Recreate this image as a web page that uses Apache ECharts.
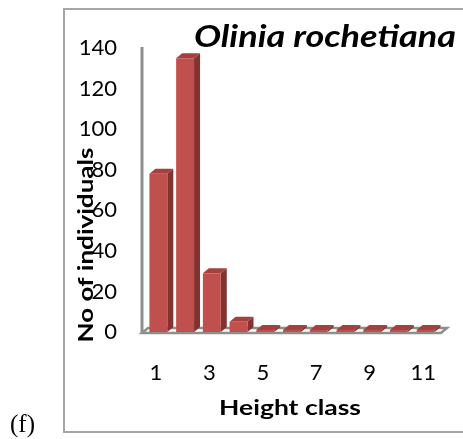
<!DOCTYPE html>
<html>
<head>
<meta charset="utf-8">
<script src="https://cdn.jsdelivr.net/npm/echarts@6/dist/echarts.min.js"></script>
<style>
  html, body { margin: 0; padding: 0; background: #ffffff; }
  #chart { width: 463px; height: 439px; }
</style>
</head>
<body>
<div id="chart"></div>
<script>
// Height classes on the x axis and number of individuals per class
const heightClasses = ['1', '2', '3', '4', '5', '6', '7', '8', '9', '10', '11'];
const individuals = [78, 135, 29, 5, 1, 1, 1, 1, 1, 1, 1];

// Value axis ticks
const yMin = 0;
const yMax = 140;
const yStep = 20;

const speciesName = 'Olinia rochetiana';
const xTitle = 'Height class';
const yTitle = 'No of individuals';
const panelTag = '(f)';

const FONT = 'Lato, "Open Sans", sans-serif';
const FRONT = '#c0504d';
const SIDE = '#843230';
const TOP = '#a3413e';
const WALL = '#8e8e8e';
const DEPTH_X = 6;
const DEPTH_Y = -5;

const chart = echarts.init(document.getElementById('chart'), null, { renderer: 'canvas' });

// Floor slab and left wall edge, sized from the grid rectangle
function renderFloor(params, api) {
  const cs = params.coordSys;
  const y0 = api.coord([0, yMin])[1] + 1;
  const yTop = api.coord([0, yMax])[1] - 1;
  const left = cs.x - 3;
  const right = cs.x + cs.width + 2;
  return {
    type: 'group',
    children: [
      {
        type: 'polygon',
        shape: { points: [[left, y0], [right, y0], [right + DEPTH_X, y0 + DEPTH_Y], [left + DEPTH_X, y0 + DEPTH_Y]] },
        style: { fill: '#ffffff', stroke: WALL, lineWidth: 2.5 }
      },
      {
        type: 'line',
        shape: { x1: left, y1: yTop, x2: left, y2: y0 },
        style: { stroke: WALL, lineWidth: 3 }
      }
    ]
  };
}

// 3D-looking column: front face, right side and top
function renderColumn(params, api) {
  const i = api.value(0);
  const v = api.value(1);
  const top = api.coord([i, v]);
  const base = api.coord([i, 0]);
  const w = api.size([1, 0])[0] * 0.67;
  const x0 = top[0] - w / 2;
  const x1 = x0 + w;
  const yT = top[1];
  const yB = base[1];
  return {
    type: 'group',
    children: [
      {
        type: 'polygon',
        shape: { points: [[x1, yT], [x1 + DEPTH_X, yT + DEPTH_Y], [x1 + DEPTH_X, yB + DEPTH_Y], [x1, yB]] },
        style: { fill: SIDE }
      },
      {
        type: 'polygon',
        shape: { points: [[x0, yT], [x0 + DEPTH_X, yT + DEPTH_Y], [x1 + DEPTH_X, yT + DEPTH_Y], [x1, yT]] },
        style: { fill: TOP }
      },
      {
        type: 'rect',
        shape: { x: x0, y: yT, width: w, height: yB - yT },
        style: { fill: FRONT }
      }
    ]
  };
}

chart.setOption({
  animation: false,
  backgroundColor: '#ffffff',
  grid: { left: 145, right: 24, top: 48, bottom: 107 },
  xAxis: {
    type: 'category',
    data: heightClasses,
    axisLine: { show: false },
    axisTick: { show: false },
    axisLabel: { interval: 1, margin: 30, fontSize: 22, fontFamily: FONT, color: '#000000', padding: [0, 5, 0, 0] }
  },
  yAxis: {
    type: 'value',
    min: yMin,
    max: yMax,
    interval: yStep,
    axisLine: { show: false },
    axisTick: { show: false },
    splitLine: { show: false },
    axisLabel: { margin: 28, fontSize: 22, fontFamily: FONT, color: '#000000' }
  },
  graphic: [
    {
      type: 'rect',
      z: -10,
      shape: { x: 64, y: 9, width: 430, height: 423 },
      style: { fill: 'none', stroke: '#a6a6a6', lineWidth: 2 }
    },
    {
      type: 'text',
      x: 325,
      y: 37,
      scaleX: 1.2,
      z: 10,
      style: { text: speciesName, font: 'italic bold 30px ' + FONT, fill: '#000000', align: 'center', verticalAlign: 'middle' }
    },
    {
      type: 'text',
      x: 290,
      y: 408,
      scaleX: 1.26,
      z: 10,
      style: { text: xTitle, font: 'bold 21px ' + FONT, fill: '#000000', align: 'center', verticalAlign: 'middle' }
    },
    {
      type: 'text',
      x: 10,
      y: 425,
      style: { text: panelTag, font: '25px "Liberation Serif", serif', fill: '#000000', verticalAlign: 'middle' }
    },
    {
      type: 'text',
      x: 86,
      y: 245,
      rotation: Math.PI / 2,
      scaleX: 1.24,
      z: 10,
      style: { text: yTitle, font: 'bold 21px ' + FONT, fill: '#000000', align: 'center', verticalAlign: 'middle' }
    }
  ],
  series: [
    {
      type: 'custom',
      renderItem: renderFloor,
      data: [[0, 0]],
      encode: { x: 0, y: 1 },
      z: 1,
      silent: true
    },
    {
      type: 'custom',
      renderItem: renderColumn,
      data: individuals.map((v, i) => [i, v]),
      encode: { x: 0, y: 1 },
      z: 2
    }
  ]
});
</script>
</body>
</html>
